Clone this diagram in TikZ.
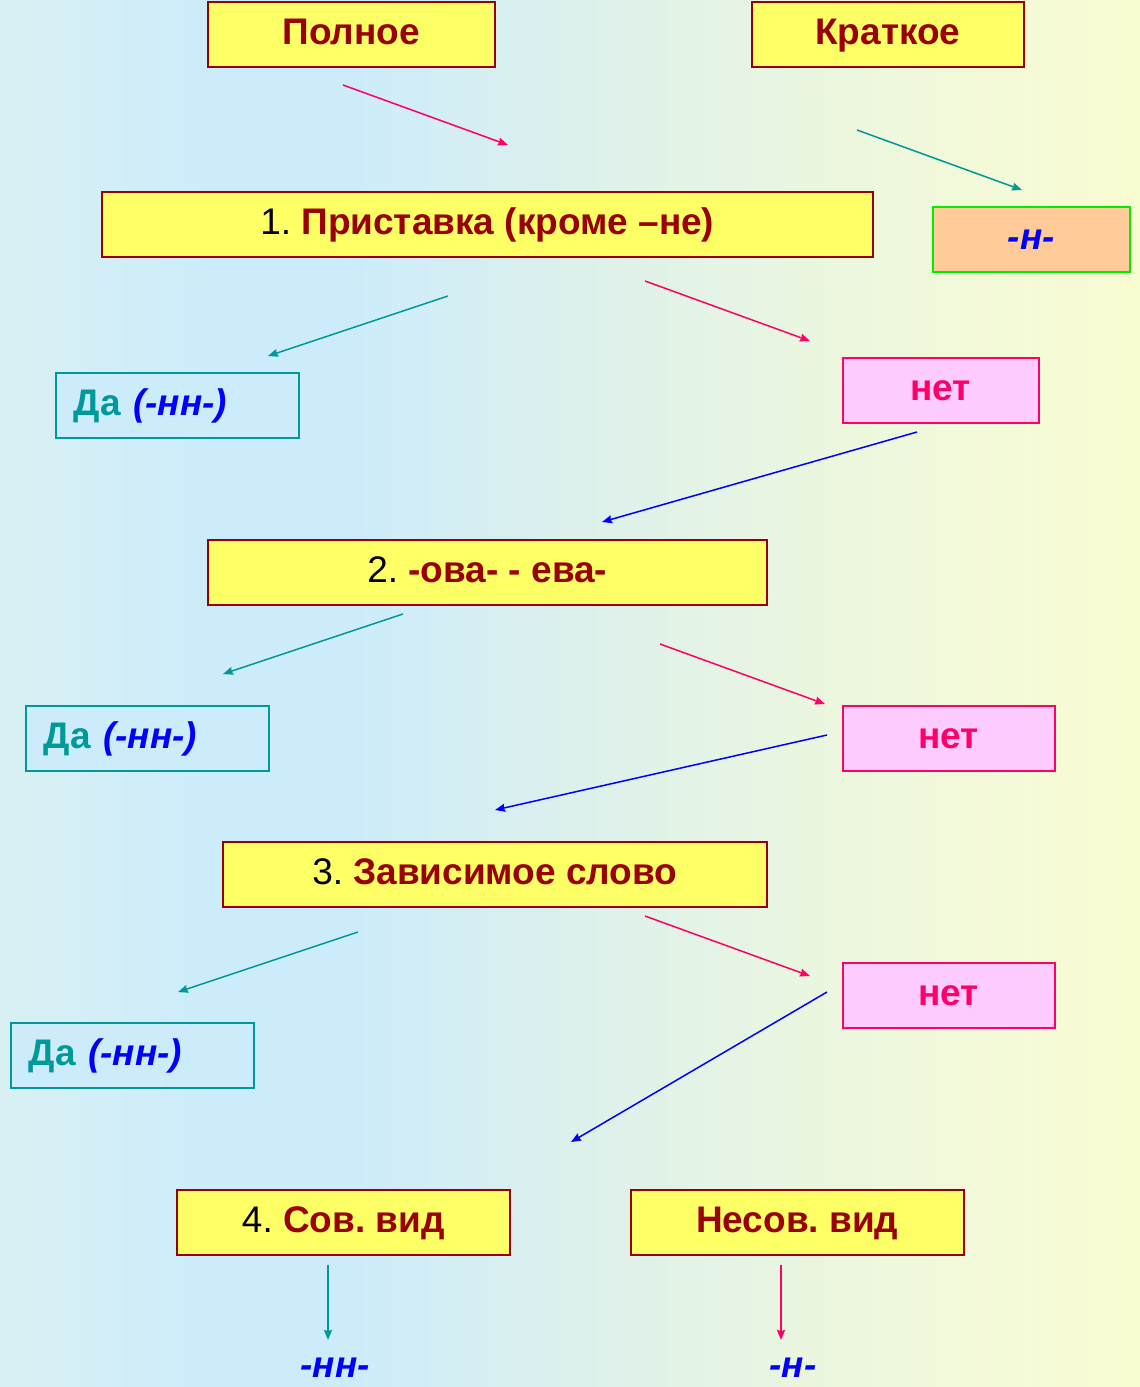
\documentclass[tikz,border=0pt]{standalone}
\usepackage{fontspec}
\setmainfont{Liberation Sans}
\usetikzlibrary{arrows.meta}
\frenchspacing
\definecolor{dred}{HTML}{990000}
\definecolor{yel}{HTML}{FFFF66}
\definecolor{tealc}{HTML}{009999}
\definecolor{pinkc}{HTML}{FF0066}
\definecolor{pinkf}{HTML}{FFCCFF}
\definecolor{peach}{HTML}{FFCC99}
\definecolor{greenc}{HTML}{00EE00}
\definecolor{bluec}{HTML}{0000FF}
\definecolor{dafill}{HTML}{CCECFB}
\definecolor{bg0}{RGB}{216,240,242}
\definecolor{bg1}{RGB}{204,236,252}
\definecolor{bg2}{RGB}{220,240,236}
\definecolor{bg3}{RGB}{236,247,222}
\definecolor{bg4}{RGB}{250,252,210}
\pgfdeclarehorizontalshading{bgshade}{100bp}{color(0bp)=(bg0); color(25bp)=(bg0); color(35bp)=(bg1); color(40bp)=(bg1); color(50bp)=(bg2); color(62bp)=(bg3); color(75bp)=(bg4); color(100bp)=(bg4)}
\tikzset{
  bx/.style={anchor=north west, inner sep=0pt, line width=1.6pt, minimum height=65pt,
    text height=26pt, text depth=5pt,
    font=\fontsize{37}{40}\selectfont\bfseries},
  ybox/.style={bx, draw=dred, fill=yel, text=dred},
  dabox/.style={bx, draw=tealc, fill=dafill, text=tealc, minimum width=243pt, text width=207pt, align=left},
  netbox/.style={bx, draw=pinkc, fill=pinkf, text=pinkc},
  hbox/.style={bx, draw=greenc, fill=peach, text=bluec},
  endtxt/.style={anchor=base, inner sep=0pt, text=bluec, font=\fontsize{37}{40}\selectfont\bfseries\itshape},
  arr/.style={line width=1.5pt, -{Stealth[length=10pt,width=8pt,inset=1pt]}},
  parr/.style={arr, draw=pinkc},
  tarr/.style={arr, draw=tealc},
  barr/.style={arr, draw=bluec},
}
\newcommand{\nn}{\textcolor{bluec}{\itshape(-нн-)}}
\newcommand{\num}[1]{\textcolor{black}{\mdseries #1}}
\begin{document}
\begin{tikzpicture}[x=1pt,y=-1pt]
\useasboundingbox (0,0) rectangle (1140,1387);
\shade[shading=bgshade] (0,0) rectangle (1140,1387);

% top row
\node[ybox, minimum width=287pt] (polnoe) at (207,1) {Полное};
\node[ybox, minimum width=272pt] (kratkoe) at (751,1) {Краткое};
% level 1
\node[ybox, minimum width=771pt] (q1) at (101,191) {\num{1.} Приставка (кроме –не)};
\node[hbox, minimum width=197pt] (hkr) at (932,206) {\itshape -н-};
\node[dabox] (da1) at (55,372) {Да \nn};
\node[netbox, minimum width=196pt] (net1) at (842,357) {нет};
% level 2
\node[ybox, minimum width=559pt] (q2) at (207,539) {\num{2.} -ова- - ева-};
\node[dabox] (da2) at (25,705) {Да \nn};
\node[netbox, minimum width=212pt] (net2) at (842,705) {нет};
% level 3
\node[ybox, minimum width=544pt] (q3) at (222,841) {\num{3.} Зависимое слово};
\node[dabox] (da3) at (10,1022) {Да \nn};
\node[netbox, minimum width=212pt] (net3) at (842,962) {нет};
% level 4
\node[ybox, minimum width=333pt] (q4) at (176,1189) {\num{4.} Сов. вид};
\node[ybox, minimum width=333pt] (q5) at (630,1189) {Несов. вид};
\node[endtxt] (nn) at (335,1377) {-нн-};
\node[endtxt] (n) at (793,1377) {-н-};

% arrow end points (free-floating connectors)
\coordinate (a1s) at (343,85);   \coordinate (a1e) at (508,145);
\coordinate (a2s) at (857,130);  \coordinate (a2e) at (1022,190);
\coordinate (a3s) at (448,296);  \coordinate (a3e) at (268,356);
\coordinate (a4s) at (645,281);  \coordinate (a4e) at (810,341);
\coordinate (a5s) at (917,432);  \coordinate (a5e) at (602,522);
\coordinate (a6s) at (403,614);  \coordinate (a6e) at (223,674);
\coordinate (a7s) at (660,644);  \coordinate (a7e) at (825,704);
\coordinate (a8s) at (827,735);  \coordinate (a8e) at (495,810);
\coordinate (a9s) at (358,932);  \coordinate (a9e) at (178,992);
\coordinate (a10s) at (645,916); \coordinate (a10e) at (810,976);
\coordinate (a11s) at (827,992); \coordinate (a11e) at (571,1142);
\coordinate (a12s) at (328,1265); \coordinate (a12e) at (328,1340);
\coordinate (a13s) at (781,1265); \coordinate (a13e) at (781,1340);

\draw[parr] (a1s) -- (a1e);
\draw[tarr] (a2s) -- (a2e);
\draw[tarr] (a3s) -- (a3e);
\draw[parr] (a4s) -- (a4e);
\draw[barr] (a5s) -- (a5e);
\draw[tarr] (a6s) -- (a6e);
\draw[parr] (a7s) -- (a7e);
\draw[barr] (a8s) -- (a8e);
\draw[tarr] (a9s) -- (a9e);
\draw[parr] (a10s) -- (a10e);
\draw[barr] (a11s) -- (a11e);
\draw[tarr] (a12s) -- (a12e);
\draw[parr] (a13s) -- (a13e);
\end{tikzpicture}
\end{document}
